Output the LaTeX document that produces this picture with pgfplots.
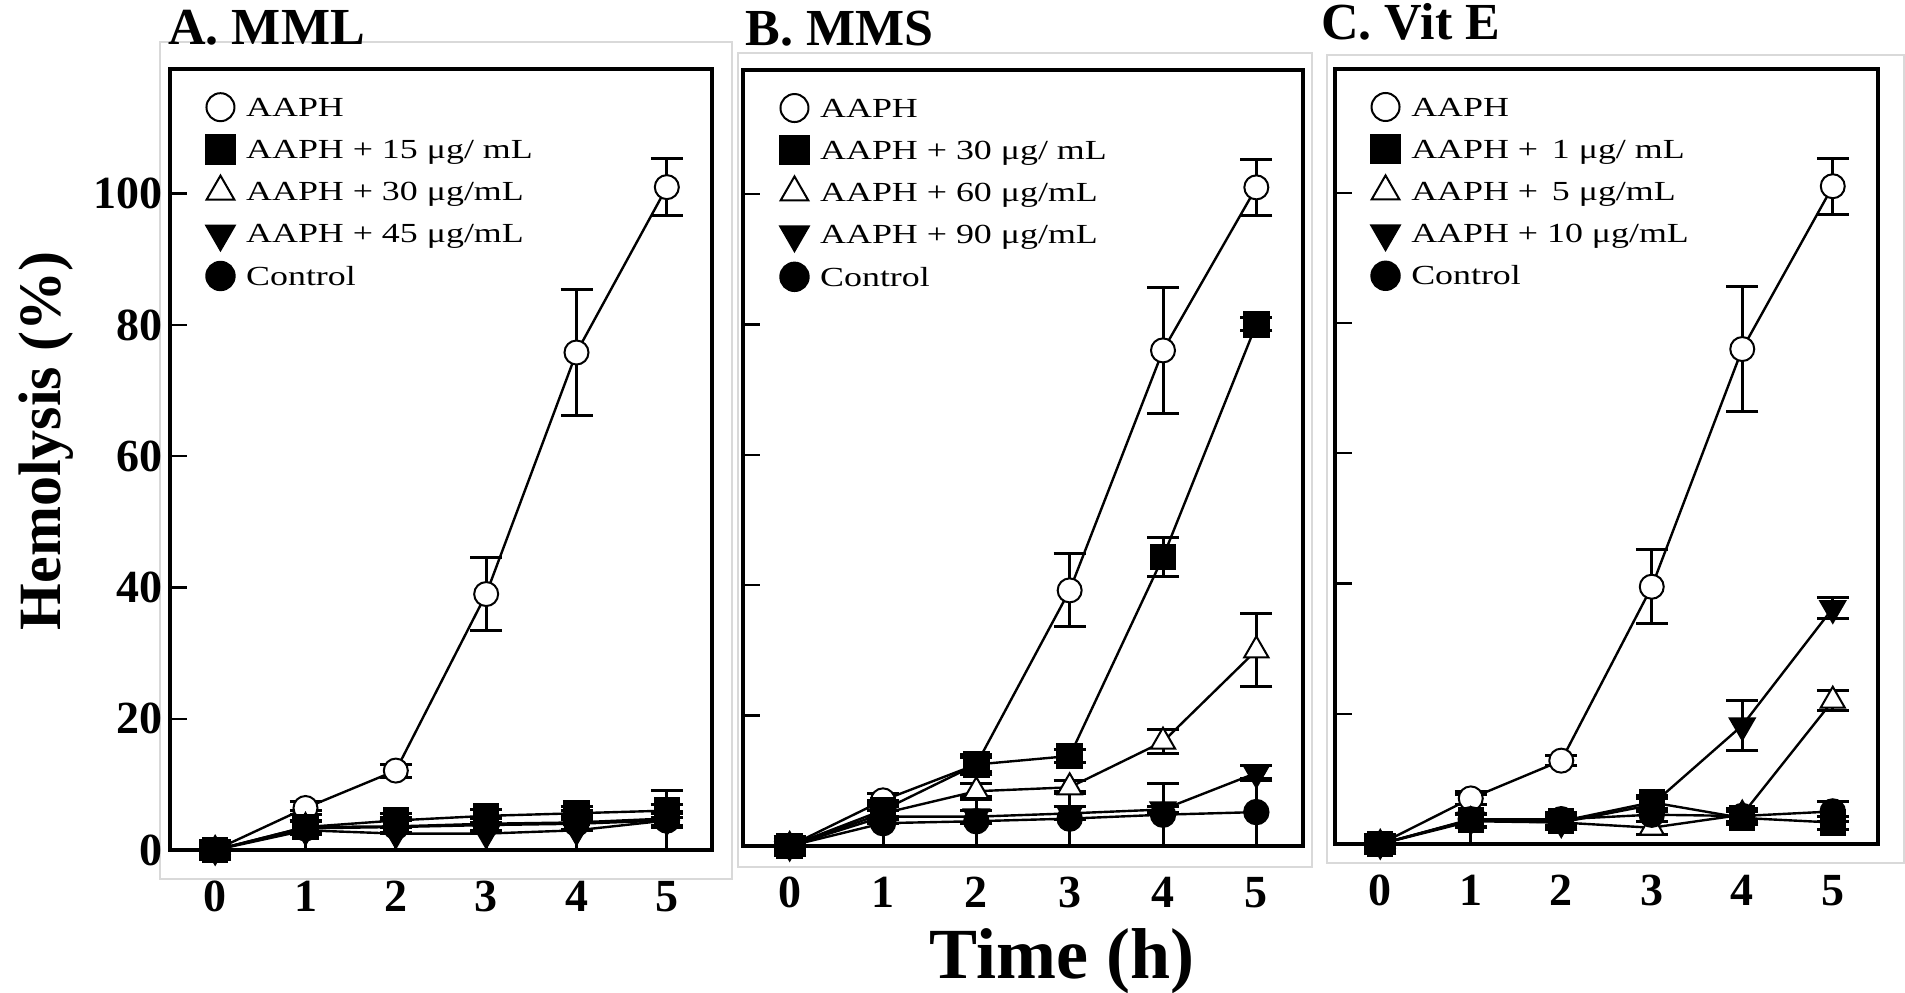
\documentclass[border=0pt]{standalone}
\usepackage{fontspec}
\setmainfont{Liberation Serif}
\newfontfamily\legfont[FakeStretch=1.3]{Liberation Serif}
\usepackage{pgfplots}
\pgfplotsset{compat=1.18}

\pgfplotsset{
  panel/.style={
    scale only axis, xmin=-0.5, xmax=5.5, ymin=0, ymax=119,
    axis line style={line width=2pt},
    xtick={0,...,5}, ytick={0,20,...,100},
    tick align=inside, ytick pos=left, xtick pos=bottom,
    major tick length=8.5pt,
    ytick style={line width=1.2pt, black},
    xtick style={draw=none},
    /pgf/number format/assume math mode=true,
    ticklabel style={font=\bfseries\fontsize{23}{27}\selectfont},
    xticklabel style={yshift=-12pt},
    clip=false,
    legend cell align=left,
    legend style={draw=none, fill=none, at={(0.056,0.968)}, anchor=north west,
      font=\legfont\fontsize{13.8}{15}\selectfont,
      nodes={inner sep=0pt, text height=9pt, text depth=3pt},
      row sep=9.1pt, column sep=6pt},
    legend image code/.code={\path (0cm,-0.1cm) (0.44cm,0.1cm);
      \begin{pgfinterruptboundingbox}\draw[##1] plot coordinates {(0.22cm,1.6pt)};\end{pgfinterruptboundingbox}},
    every axis plot/.append style={black, line width=1.2pt},
    error bars/y dir=both, error bars/y explicit,
    error bars/error bar style={line width=1.5pt},
    error bars/error mark options={line width=1.5pt, mark size=8pt, rotate=90},
  },
  oc/.style={mark=*, mark size=6pt, mark options={fill=white, line width=1pt}},
  sq/.style={mark=square*, mark size=6pt, mark options={fill=black}},
  tr/.style={mark=triangle*, mark size=7pt, mark options={fill=white, line width=1pt}},
  dt/.style={mark=triangle*, mark size=7pt, mark options={fill=black, rotate=180}},
  fc/.style={mark=*, mark size=6pt, mark options={fill=black}},
}

\begin{document}
\begin{tikzpicture}
\useasboundingbox (0,0) rectangle (952.5pt,496pt);
% light frames
\draw[gray!30, line width=0.6pt] (80pt,56.5pt) rectangle (366pt,475pt);
\draw[gray!30, line width=0.6pt] (369pt,62.5pt) rectangle (656pt,469.5pt);
\draw[gray!30, line width=0.6pt] (663.5pt,64.5pt) rectangle (952pt,468.5pt);

% ---------------- Panel A ----------------
\begin{axis}[panel, at={(85pt,71pt)}, anchor=south west, width=271pt, height=390.5pt]
\addlegendimage{oc, mark size=7pt} \addlegendentry{AAPH}
\addlegendimage{sq, mark size=7pt} \addlegendentry{AAPH + 15 μg/ mL}
\addlegendimage{tr, mark size=8pt} \addlegendentry{AAPH + 30 μg/mL}
\addlegendimage{dt, mark size=8pt} \addlegendentry{AAPH + 45 μg/mL}
\addlegendimage{fc, mark size=7pt} \addlegendentry{Control}
\addplot[forget plot, oc] coordinates {(0,0) +- (0,1.5) (1,6.4) +- (0,1) (2,12.1) +- (0,1) (3,39.0) +- (0,5.6) (4,75.8) +- (0,9.6) (5,101.0) +- (0,4.3)};
\addplot[forget plot, tr] coordinates {(0,0) +- (0,0.5) (1,3.5) +- (0,1) (2,3.6) +- (0,1) (3,4.0) +- (0,1) (4,4.2) +- (0,1) (5,4.8) +- (0,1)};
\addplot[forget plot, sq] coordinates {(0,0) +- (0,0.5) (1,3.5) +- (0,1) (2,4.5) +- (0,1) (3,5.2) +- (0,1) (4,5.6) +- (0,1) (5,6.0) +- (0,1)};
\addplot[forget plot, dt] coordinates {(0,0) +- (0,1) (1,3.0) +- (0,3.0) (2,2.5) +- (0,2.5) (3,2.5) +- (0,2.5) (4,3.0) +- (0,3.0) (5,4.5) +- (0,4.5)};
\addplot[forget plot, fc] coordinates {(0,0) +- (0,0.5) (1,3.3) +- (0,1) (2,3.5) +- (0,1) (3,3.8) +- (0,1) (4,4.0) +- (0,1) (5,4.5) +- (0,1)};
\end{axis}

% ---------------- Panel B ----------------
\begin{axis}[panel, at={(371.5pt,73pt)}, anchor=south west, width=280pt, height=388pt, yticklabels={}]
\addlegendimage{oc, mark size=7pt} \addlegendentry{AAPH}
\addlegendimage{sq, mark size=7pt} \addlegendentry{AAPH + 30 μg/ mL}
\addlegendimage{tr, mark size=8pt} \addlegendentry{AAPH + 60 μg/mL}
\addlegendimage{dt, mark size=8pt} \addlegendentry{AAPH + 90 μg/mL}
\addlegendimage{fc, mark size=7pt} \addlegendentry{Control}
\addplot[forget plot, oc] coordinates {(0,0) +- (0,1.5) (1,7.0) +- (0,1) (2,12.5) +- (0,1) (3,39.2) +- (0,5.6) (4,76.0) +- (0,9.6) (5,101.0) +- (0,4.3)};
\addplot[forget plot, tr] coordinates {(0,0) +- (0,0.5) (1,5.0) +- (0,1) (2,8.4) +- (0,1.2) (3,9.0) +- (0,1) (4,16.0) +- (0,1.8) (5,30.0) +- (0,5.6)};
\addplot[forget plot, sq] coordinates {(0,0) +- (0,0.5) (1,5.5) +- (0,1) (2,12.5) +- (0,1.5) (3,13.8) +- (0,1) (4,44.3) +- (0,3) (5,80.0) +- (0,1)};
\addplot[forget plot, dt] coordinates {(0,0) +- (0,0.5) (1,4.5) +- (0,1) (2,4.5) +- (0,1) (3,5.0) +- (0,1) (4,5.6) +- (0,0.5) (5,11.2) +- (0,1.2)};
\addplot[forget plot, fc] coordinates {(0,0) +- (0,1) (1,3.5) +- (0,3.5) (2,3.8) +- (0,3.8) (3,4.2) +- (0,4.2) (4,4.8) +- (0,4.8) (5,5.2) +- (0,5.2)};
\end{axis}

% ---------------- Panel C ----------------
\begin{axis}[panel, at={(667.5pt,74pt)}, anchor=south west, width=271.5pt, height=387.5pt, yticklabels={}]
\addlegendimage{oc, mark size=7pt} \addlegendentry{AAPH}
\addlegendimage{sq, mark size=7pt} \addlegendentry{AAPH +\enspace1 μg/ mL}
\addlegendimage{tr, mark size=8pt} \addlegendentry{AAPH +\enspace5 μg/mL}
\addlegendimage{dt, mark size=8pt} \addlegendentry{AAPH + 10 μg/mL}
\addlegendimage{fc, mark size=7pt} \addlegendentry{Control}
\addplot[forget plot, oc] coordinates {(0,0) +- (0,1.5) (1,7.0) +- (0,1) (2,12.8) +- (0,0.8) (3,39.5) +- (0,5.7) (4,76.0) +- (0,9.6) (5,101.0) +- (0,4.3)};
\addplot[forget plot, tr] coordinates {(0,0) +- (0,0.5) (1,3.5) +- (0,1) (2,3.3) +- (0,1) (3,2.5) +- (0,1) (4,4.5) +- (0,1) (5,22.0) +- (0,1.5)};
\addplot[forget plot, dt] coordinates {(0,0) +- (0,0.5) (1,3.7) +- (0,1) (2,3.3) +- (0,1) (3,6.0) +- (0,1) (4,18.2) +- (0,3.8) (5,36.2) +- (0,1.6)};
\addplot[forget plot, sq] coordinates {(0,0) +- (0,0.5) (1,3.7) +- (0,1) (2,3.5) +- (0,1) (3,6.4) +- (0,1) (4,4.0) +- (0,1) (5,3.3) +- (0,1)};
\addplot[forget plot, fc] coordinates {(0,0) +- (0,1) (1,3.8) +- (0,3.8) (2,3.8) +- (0,1) (3,4.5) +- (0,1) (4,4.3) +- (0,1) (5,5.0) +- (0,1.5)};
\end{axis}

% titles and shared labels
\node[anchor=base west, font=\bfseries\fontsize{26}{30}\selectfont, inner sep=0pt] at (84pt,473.5pt) {A. MML};
\node[anchor=base west, font=\bfseries\fontsize{26}{30}\selectfont, inner sep=0pt] at (372.5pt,473pt) {B. MMS};
\node[anchor=base west, font=\bfseries\fontsize{26}{30}\selectfont, inner sep=0pt] at (660.5pt,476pt) {C. Vit E};
\node[rotate=90, font=\bfseries\fontsize{30}{34}\selectfont, inner sep=0pt] at (23pt,275.5pt) {Hemolysis (\%)};
\node[anchor=base, font=\bfseries\fontsize{36}{40}\selectfont, inner sep=0pt] at (531pt,7pt) {Time (h)};
\end{tikzpicture}
\end{document}
